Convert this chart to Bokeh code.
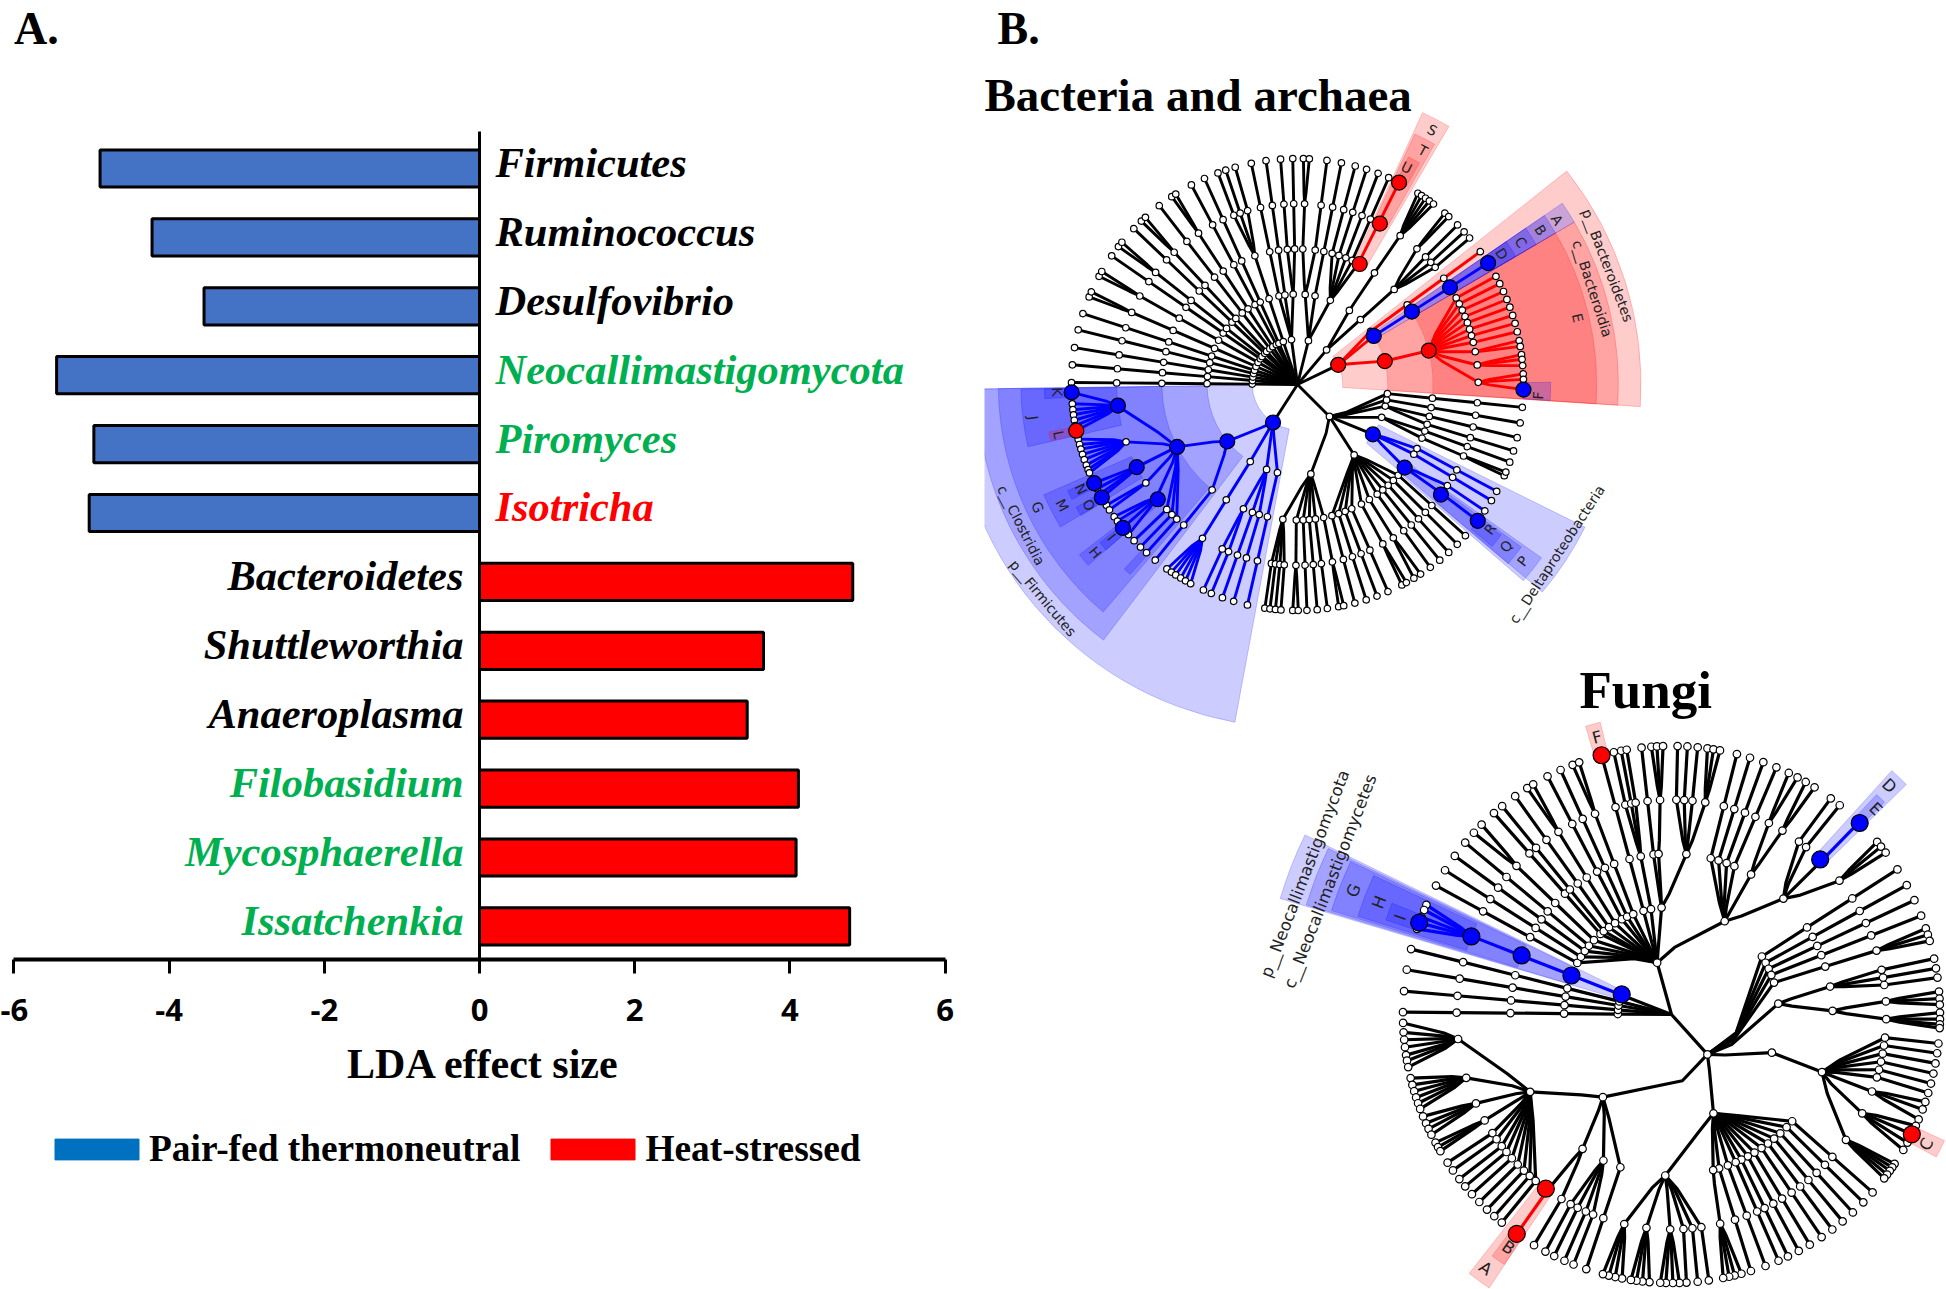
import math
from bokeh.core.properties import value
from bokeh.embed import file_html
from bokeh.layouts import row
from bokeh.models import FixedTicker, Legend, LegendItem, Range1d
from bokeh.plotting import figure
from bokeh.resources import INLINE

# ---------- Panel A data ----------
neg_names = ["Firmicutes", "Ruminococcus", "Desulfovibrio", "Neocallimastigomycota", "Piromyces", "Isotricha"]
neg_values = [-4.89, -4.22, -3.55, -5.45, -4.97, -5.03]
neg_colors = ["#000000", "#000000", "#000000", "#00B050", "#00B050", "#FF0000"]
pos_names = ["Bacteroidetes", "Shuttleworthia", "Anaeroplasma", "Filobasidium", "Mycosphaerella", "Issatchenkia"]
pos_values = [4.81, 3.66, 3.45, 4.11, 4.08, 4.77]
pos_colors = ["#000000", "#000000", "#000000", "#00B050", "#00B050", "#00B050"]
tick_values = [-6, -4, -2, 0, 2, 4, 6]
tick_labels = ["-6", "-4", "-2", "0", "2", "4", "6"]

# ---------- Cladogram data: number = tip angle (deg), chain to level 5;
# tuple = (level where the clade branches, children[, node angle]) ----------
bacteria_upper = [
    179.5, 175, 170.6, 166, 161.7, (4, [157.2, 155.8]), (4, [151.4, 150]), 145.3, (4, [142.4, 141]), 136.4,
    (4, [133.7, 132.3]), 127.7, (4, [123.8, 122.6]), 118, 114.3, (3, [110.6, 108.5, 106]),
    (1, [101.8, 98, (2, [94.3, 91.2])], 97.6),
    (1, [(2, [(4, [88.5, 87]), 82.5]), 78.8, (2, [75.2, 72.2, 69.1, 66.2, 63.3], 68.7)], 76),
    (1, [(2, [(4, [57.8, 56.7, 55.5, 54.3, 53])], 55), (2, [(3, [(4, [49.3, 48]), 44.9, 42.5, 40.4])], 45.9)], 49.9),
]
bacteria_bacteroidetes = [
    (1, [36, 32.5, (2, [(3, [28.6, 26.5, 24.3, 22.1, 20, 17.8, 15.7, 13.5, (4, [11.2, 9.7]), (4, [7.6, 6.4, 4.8]),
                              (4, [2.7, 1.3, -1.3])], 14.5)], 15)], 25.8),
]
bacteria_firmicutes = [
    (1, [(2, [(3, [(4, [182, 184.9, 186.4, 187.7, 189.1, 190.5, 191.8]),
                   (4, [194, 195.4, 196.6, 198, 199.4, 200.9, 202.1, 203]),
                   (4, [205.9, 207.5, 209, 210], 207.2), (4, [212.3, 213.7]),
                   (4, [215.8, 217.2, 219.4, 221.6]), 223.7, 226, 228.1], 207.4), 231], 219),
         (2, [(4, [234.7, 236.1, 237.4, 238.9, 240.3, 241.8], 238.3)], 238.5),
         (2, [(3, [245.4, 247.6]), 250.6, 253.6], 250), 257.2], 237.2),
]
bacteria_lower = [
    (1, [(2, [(3, [261.7, 263, 264.4, 265.8], 263.8), (4, [268.8, 270.2]), 272.4, 275, 277.6, (4, [280.5, 281.8])], 278.5),
         (2, [284.7, 287.7, 290.6, 293.6, (4, [297.5, 298.8]), (4, [301, 303]), 306, 309, 312, 315, 318], 308.8),
         (2, [(3, [(4, [322.9]), 326], 322.2), 329.1, 331.8], 326.5),
         (2, [(4, [336.2, 337.2]), 339.9], 338.7), (2, [342.9, 346.4], 346.2), 350.2, 354.2], 315),
]
bacteria_colors = [(180.9, 258, "#0000FF", 2), (-2, 37, "#FF0000", 2), (32, 33, "#0000FF", 3),
                   (321, 333, "#0000FF", 3), (63, 64, "#FF0000", 4)]
bacteria_big_level = [1, 2, 3, 2, 3, 4, 5, 5, 3, 4, 5, 1, 2, 3, 4, 4, 4, 5, 5, 5, 5, 2, 3, 4, 5, 5]
bacteria_big_angle = [25.8, 15, 14.5, 32.5, 32.5, 32.5, 32.5, -1.3, 62.7, 62.9, 63.3, 237.2, 219, 207.4, 186.7,
                      207.2, 219.4, 182, 205.9, 210, 219.4, 326.5, 322.2, 322.5, 322.9, 191.8]
bacteria_big_color = ["#FF0000"] * 3 + ["#0000FF"] * 5 + ["#FF0000"] * 3 + ["#0000FF"] * 14 + ["#FF0000"]

# wedge tables, radii in level units
bacteria_w_start = [180.8, 180.8, 180.8, 181, 203.5, 218, 226.8, -3.7, -3.7, -3.7, 30.4, 30.4, 30.4, 30.4, -3.6,
                    59.6, 60.3, 61.2, -40.3, -41, -40.4, -39.8, 204.8, 209, 218.7, 181, 190.8]
bacteria_w_end = [259.5, 232.8, 229.5, 193, 211, 220.8, 228.6, 38.4, 30.4, 30.4, 34.4, 34.4, 34.4, 34.4, 0.5,
                  65.3, 64.9, 64, -26.4, -35.4, -36, -36.5, 207, 211.2, 220.8, 183.2, 192.8]
bacteria_w_in = [1, 2, 3, 4, 4, 4, 5, 1, 2, 3, 2, 3, 4, 5, 5, 3, 4, 5, 2, 3, 4, 5, 5, 5, 5, 5, 5]
bacteria_w_out = [7.6, 7.1, 6.62, 6.12, 6.12, 6.12, 5.6, 7.6, 7.1, 6.62, 7.1, 6.62, 6.12, 5.6, 5.6,
                  6.62, 6.12, 5.6, 7.1, 6.62, 6.12, 5.6, 5.6, 5.6, 5.6, 5.6, 5.6]
bacteria_w_color = (["#0000FF"] * 7 + ["#FF0000"] * 3 + ["#0000FF"] * 5 + ["#FF0000"] * 3 + ["#0000FF"] * 4
                    + ["#0000FF"] * 4 + ["#FF0000"])

bacteria_lab_text = ["p__Firmicutes", "c__Clostridia", "p__Bacteroidetes", "c__Bacteroidia", "c__Deltaproteobacteria",
                     "A", "B", "C", "D", "E", "F", "G", "H", "I", "J", "K", "L", "M", "N", "O", "P", "Q", "R", "S", "T", "U"]
bacteria_lab_r = [7.35, 6.86, 7.35, 6.86, 6.86, 6.8, 6.37, 5.86, 5.36, 6.37, 5.33, 6.36, 5.82, 5.32, 5.9, 5.32, 5.4,
                  5.85, 5.32, 5.33, 6.33, 5.84, 5.33, 6.37, 5.87, 5.37]
bacteria_lab_a = [220, 207, 21, 18, -33.2, 32.4, 32.4, 32.5, 32.6, 13.4, -2.6, 205.3, 219.7, 219.4, 187.2, 181.8, 191.9,
                  207.2, 205.8, 210, -38.1, -37.8, -36.9, 62.1, 61.8, 63.3]

fungi_tree = [
    179.5, 175, 170.4, 165.9,
    (4, [155.9, 157.1, 158.7, 160, 161.4], 158.6),
    (1, [151.3, 147.5, 143.8, 140.2, (4, [137.4, 135]), 131.4, 129.1, 125.6, (4, [122.5, 121]), 117.5, 114.4,
         (4, [111.6, 110.1]), 105.1, (3, [102.4, 100.8, 99.6]),
         (2, [96.4, (3, [(4, [94.3, 93.1, 91.8])], 94.6), (3, [88.7, 86.6, 84.4, (4, [82.3, 81, 79.6])], 84.7)], 95.3),
         (2, [75.9, 73, 70, 67, (3, [(4, [64.1, 62]), (4, [60, 57.8])], 60.4),
              (3, [53.6, 51.2, 45.7, (4, [40, 38.7, 37.1])], 46)], 60.3)], 105.5),
    (1, [(2, [(3, [12, 9.9, 7.9], 10), (3, [(4, [4.9, 3.4, 2.1]), (4, [0.4, -1, -2.1, -2.9])], 1.3)], 5.8),
         32.7, 28.8, 25.2, 21.6, (4, [18.7, 17.3, 15.9]),
         (2, [(3, [-6.2, -8.3, -10.5, -12.7, -14.9, -17, (4, [-19, -20.7, -23]), (4, [-24.5, -26.5, -28.5, -30.3]),
                   (4, [-33.8, -34.7, -35.6, -36.6, -37.6])])], -20.8),
         (2, [-41.5, -44.4, -47.5, -50.4, -53.2, -56, -59, -61.7, -64.3, -66.5, -69.5, -72.8,
              (3, [(4, [-74.9, -76.4, -77.6, -78.9])], -75),
              (3, [-82, -84.4, -86.8, (4, [-88.3, -89.7, -91.2, -92.4]), (4, [-94.7, -96.2, -97.5, -98.7]),
                   (4, [-100.6, -102.1, -103.5, -104.8])], -92.2)], -67),
         (2, [(3, [(4, [181.8, 183.8, 185.4, 187, 188.7, 189.9, 191.3]), (4, [193.7, 195.2, 196.6, 198, 199.3, 200.6]),
                   (4, [202.3, 203.9, 205.2, 206.6]), (4, [208.5, 209.6, 210.6]),
                   213.5, 215.5, 217.8, 219.8, 222, 224.3, 226.6, 228.7, 230.8], 208.7),
              (3, [234.8, 239.2], 236.5), (3, [242, 244.1, 246.5, 248.6], 245), 251.5], 230.3)], -48),
]
fungi_colors = [(155, 162, "#0000FF", 2), (45, 47, "#0000FF", 5), (234, 236, "#FF0000", 5)]
fungi_big_level = [1, 2, 3, 4, 5, 4, 5, 5, 5, 4, 5]
fungi_big_angle = [158, 158.7, 158.5, 158.7, 160, 46.2, 45.5, 105.1, -26.5, 234.2, 234.8]
fungi_big_color = ["#0000FF"] * 7 + ["#FF0000"] * 4
fungi_w_start = [153.9, 154.2, 154.5, 155, 158.3, 44.4, 44.9, 103.7, -28.3, 232, 233.4]
fungi_w_end = [163.5, 163.3, 163, 162.6, 161.7, 47.9, 47, 106.6, -24.8, 236.3, 236.2]
fungi_w_in = [1, 2, 3, 4, 5, 4, 5, 5, 5, 4, 5]
fungi_w_out = [7.6, 7.1, 6.62, 6.12, 5.6, 6.12, 5.6, 5.6, 5.6, 6.12, 5.6]
fungi_w_color = ["#0000FF"] * 7 + ["#FF0000"] * 4
fungi_lab_text = ["p__Neocallimastigomycota", "c__Neocallimastigomycetes", "G", "H", "I", "D", "E", "F", "C", "A", "B"]
fungi_lab_r = [7.31, 6.82, 6.35, 5.83, 5.36, 5.88, 5.39, 5.34, 5.33, 5.86, 5.3]
fungi_lab_a = [159, 158.7, 158.7, 159, 160.3, 46.4, 45.2, 105, -27, 233.8, 235]

# ---------- Panel A ----------
idx = list(range(len(neg_names) + len(pos_names)))
a = figure(width=984, height=1289, x_range=Range1d(-6.173, 6.508), y_range=Range1d(16.27, -2.438),
           output_backend="svg", toolbar_location=None, min_border=0, outline_line_color=None)
a.grid.visible = False
a.hbar(y=idx[:6], left=0, right=neg_values, height=0.54, fill_color="#4472C4", line_color="black", line_width=3)
a.hbar(y=idx[6:], left=0, right=pos_values, height=0.54, fill_color="#FF0000", line_color="black", line_width=3)
a.text(x=[0] * 6, y=idx[:6], text=neg_names, text_color=neg_colors, text_align="left", text_baseline="alphabetic",
       x_offset=16, y_offset=-6, text_font=value("Liberation Serif"), text_font_size="42.5px",
       text_font_style="bold italic")
a.text(x=[0] * 6, y=idx[6:], text=pos_names, text_color=pos_colors, text_align="right", text_baseline="alphabetic",
       x_offset=-16, y_offset=-6, text_font=value("Liberation Serif"), text_font_size="42.5px",
       text_font_style="bold italic")
ax = a.xaxis[0]
ax.fixed_location = 11.48
ax.bounds = (-6, 6)
ax.ticker = FixedTicker(ticks=tick_values)
ax.major_label_overrides = {t: l for t, l in zip(tick_values, tick_labels)}
ax.axis_line_width = 4
ax.axis_line_color = "black"
ax.major_tick_line_width = 3
ax.major_tick_in = 0
ax.major_tick_out = 14
ax.minor_tick_line_color = None
ax.major_label_standoff = 26
ax.major_label_text_font = "Open Sans"
ax.major_label_text_font_style = "bold"
ax.major_label_text_font_size = "31px"
ax.major_label_text_color = "black"
ay = a.yaxis[0]
ay.fixed_location = 0
ay.bounds = (-0.53, 11.48)
ay.ticker = FixedTicker(ticks=[])
ay.axis_line_width = 3
ay.major_tick_line_color = None
ay.minor_tick_line_color = None
ay.major_label_text_font_size = "0px"
a.text(x=[0], y=[13.0], x_offset=4, text=["LDA effect size"], text_align="center", text_baseline="alphabetic",
       text_font=value("Liberation Serif"), text_font_style="bold", text_font_size="42px", text_color="black")
a.text(x=[-6.0], y=[-2.438], y_offset=28, text=["A."], text_font=value("Liberation Serif"), text_font_size="46px",
       text_font_style="bold", text_baseline="alphabetic", text_color="black")
l1 = a.hbar(y=[100], left=[0], right=[1], fill_color="#0070C0", line_color="#0070C0")
l2 = a.hbar(y=[100], left=[0], right=[1], fill_color="#FF0000", line_color="#FF0000")
legend = Legend(items=[LegendItem(label="Pair-fed thermoneutral", renderers=[l1]),
                       LegendItem(label="Heat-stressed", renderers=[l2])],
                orientation="horizontal", location=(44, 119), border_line_color=None, background_fill_alpha=0,
                glyph_width=105, glyph_height=26, label_standoff=-4, spacing=20, padding=0, margin=0,
                label_text_font="Liberation Serif", label_text_font_style="bold", label_text_font_size="37.4px",
                label_text_color="black")
a.add_layout(legend, "center")

# ---------- Panel B ----------
b = figure(width=962, height=1289, x_range=Range1d(984, 1946), y_range=Range1d(0, 1289),
           output_backend="svg", toolbar_location=None, min_border=0, outline_line_color=None)
b.axis.visible = False
b.grid.visible = False


def node_angle(n):
    if not isinstance(n, tuple):
        return n
    if len(n) > 2:
        return n[2]
    vs = [node_angle(c) for c in n[1]]
    return (min(vs) + max(vs)) / 2


def clado(cx, cy, step, trees, colors, lw, white, big_lv, big_an, big_cl, big_size,
          ws, we, wi, wo, wc, lt, lr, la, fs):
    def pos(r, an):
        t = math.radians(an)
        return cx + r * math.cos(t), cy + r * math.sin(t)

    def col(level, an):
        c = "#000000"
        for lo, hi, cc, minl in colors:
            if lo <= an <= hi and level >= minl:
                c = cc
        return c

    xs, ys, cs, wx, wy = [], [], [], [], []

    def walk(n, pl, pa):
        tgt = n[0] if isinstance(n, tuple) else 5
        an = node_angle(n)
        rp = pl * step
        p0 = pos(rp, pa)
        p1 = pos((pl + 1) * step, an)
        if pl == 0:
            pts = [p0, p1]
        else:
            delta = (an - pa + 180) % 360 - 180
            pts = [p0, pos(rp + 0.25 * step, pa + 0.4 * delta), p1]
        xs.append([q[0] for q in pts])
        ys.append([q[1] for q in pts])
        cs.append(col(pl + 1, an))
        wx.append(p1[0]); wy.append(p1[1])
        for lv in range(pl + 2, tgt + 1):
            q0, q1 = pos((lv - 1) * step, an), pos(lv * step, an)
            xs.append([q0[0], q1[0]]); ys.append([q0[1], q1[1]])
            cs.append(col(lv, an))
            wx.append(q1[0]); wy.append(q1[1])
        if isinstance(n, tuple):
            for c in n[1]:
                walk(c, tgt, an)

    for t in trees:
        walk(t, 0, node_angle(t))

    b.annular_wedge(x=[cx] * len(ws), y=[cy] * len(ws), inner_radius=[v * step for v in wi],
                    outer_radius=[v * step for v in wo], start_angle=[math.radians(v) for v in ws],
                    end_angle=[math.radians(v) for v in we], fill_color=wc, fill_alpha=0.2, line_color=wc,
                    line_alpha=0.2, line_width=1)
    b.multi_line(xs, ys, line_color=cs, line_width=lw, line_join="round")
    b.scatter(wx, wy, size=white, fill_color="white", line_color="black", line_width=1.2)
    bp = [pos(l * step, an) for l, an in zip(big_lv, big_an)]
    b.scatter([q[0] for q in bp], [q[1] for q in bp], size=big_size, fill_color=big_cl, line_color="black", line_width=1.2)
    lp = [pos(r * step, an) for r, an in zip(lr, la)]
    rot = [(an + 90 if math.sin(math.radians(an)) < 0 else an - 90) for an in la]
    b.text([q[0] for q in lp], [q[1] for q in lp], text=lt, angle=rot, angle_units="deg", text_align="center",
           text_baseline="middle", text_font=value("DejaVu Sans"), text_font_size=fs, text_color="#222222")


clado(1297, 905, 45.2, bacteria_upper + bacteria_bacteroidetes + bacteria_firmicutes + bacteria_lower,
      bacteria_colors, 2.9, 6.5, bacteria_big_level, bacteria_big_angle, bacteria_big_color, 15,
      bacteria_w_start, bacteria_w_end, bacteria_w_in, bacteria_w_out, bacteria_w_color,
      bacteria_lab_text, bacteria_lab_r, bacteria_lab_a, "14px")
clado(1671, 275, 53.7, fungi_tree, fungi_colors, 3.2, 7.5, fungi_big_level, fungi_big_angle, fungi_big_color, 17,
      fungi_w_start, fungi_w_end, fungi_w_in, fungi_w_out, fungi_w_color,
      fungi_lab_text, fungi_lab_r, fungi_lab_a, "16.5px")

title_x = [997, 984, 1579]
title_y = [1261, 1195, 600]
title_text = ["B.", "Bacteria and archaea", "Fungi"]
title_size = ["46px", "47px", "53px"]
b.text(title_x, title_y, text=title_text, text_font=value("Liberation Serif"), text_font_style="bold",
       text_font_size=title_size, text_baseline="alphabetic", text_color="black")

open("out.html", "w").write(file_html(row(a, b, spacing=0), INLINE))
